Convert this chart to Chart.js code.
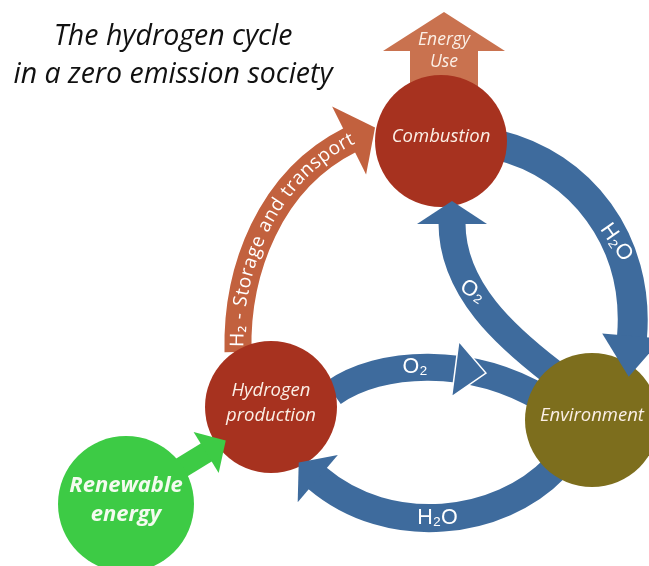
<!DOCTYPE html>
<html>
<head>
<meta charset="utf-8">
<script src="https://cdn.jsdelivr.net/npm/chart.js@4.4.0/dist/chart.umd.min.js"></script>
<style>
  html, body { margin: 0; padding: 0; background: #fff; }
  #wrap { width: 649px; height: 566px; position: relative; }
</style>
</head>
<body>
<div id="wrap"><canvas id="cycle"></canvas></div>
<script>
// title
const titleLines = ['The hydrogen cycle', 'in a zero emission society'];

// nodes of the cycle (centre in page units, radius)
const nodeLines = [['Combustion'], ['Hydrogen', 'production'], ['Environment'], ['Renewable', 'energy']];
const nodeX = [441, 271, 592, 126];
const nodeY = [141, 407, 420, 504];
const nodeR = [66, 66, 67, 68];

// flows between the nodes: label and centre line (start, ctrl, ctrl, end of shaft)
const flowLabels = ['H₂ - Storage and transport', 'H₂O', 'O₂', 'O₂', 'H₂O', '', 'Energy\nUse'];
const flowPaths = [
    [[238, 352], [236, 270], [270, 180], [350, 140]],
    [[498, 145], [580, 165], [640, 240], [632, 337]],
    [[552, 372], [508, 338], [452, 290], [452, 223]],
    [[333, 393], [380, 360], [470, 355], [545, 400]],
    [[555, 468], [500, 525], [390, 540], [317, 478]],
    [[176, 471], [207, 452]],
    [[444, 100], [444, 50]]
];

// styles (kept apart from the data)
const nodeColors = ['#a7321f', '#a7321f', '#7d6e1d', '#3dcb45'];
const flowColors = ['#c2613e', '#3e6b9d', '#3e6b9d', '#3e6b9d', '#3e6b9d', '#3dcb45', '#c9724f'];
const flowWidth = [27, 30, 27, 27, 28, 21, 68];
const headAt = [1, 1, 1, 0.62, 1, 1, 1];
const headLen = [28, 40, 22, 30, 24, 22, 38];
const headWidth = [76, 60, 70, 56, 62, 48, 122];
const labelAt = [0, 0.64, 0.62, 0.44, 0.52, 0, 0];
const labelAngle = [0, 55, 32, 0, 0, 0, 0];

function px(chart, p) {
    return [chart.scales.x.getPixelForValue(p[0]), chart.scales.y.getPixelForValue(p[1])];
}

function pointAt(p, t) {
    if (p.length === 2) {
        return [p[0][0] + (p[1][0] - p[0][0]) * t, p[0][1] + (p[1][1] - p[0][1]) * t];
    }
    const u = 1 - t;
    const a = u * u * u, b = 3 * u * u * t, c = 3 * u * t * t, d = t * t * t;
    return [a * p[0][0] + b * p[1][0] + c * p[2][0] + d * p[3][0],
            a * p[0][1] + b * p[1][1] + c * p[2][1] + d * p[3][1]];
}

function tangentAt(p, t) {
    let dx, dy;
    if (p.length === 2) {
        dx = p[1][0] - p[0][0]; dy = p[1][1] - p[0][1];
    } else {
        const u = 1 - t;
        dx = 3 * u * u * (p[1][0] - p[0][0]) + 6 * u * t * (p[2][0] - p[1][0]) + 3 * t * t * (p[3][0] - p[2][0]);
        dy = 3 * u * u * (p[1][1] - p[0][1]) + 6 * u * t * (p[2][1] - p[1][1]) + 3 * t * t * (p[3][1] - p[2][1]);
    }
    const l = Math.hypot(dx, dy);
    return [dx / l, dy / l];
}

function drawShaft(ctx, p, i) {
    ctx.save();
    ctx.strokeStyle = flowColors[i];
    ctx.lineWidth = flowWidth[i];
    ctx.lineCap = 'butt';
    ctx.beginPath();
    ctx.moveTo(p[0][0], p[0][1]);
    if (p.length === 2) ctx.lineTo(p[1][0], p[1][1]);
    else ctx.bezierCurveTo(p[1][0], p[1][1], p[2][0], p[2][1], p[3][0], p[3][1]);
    ctx.stroke();
    ctx.restore();
}

function drawHead(ctx, p, i) {
    const b = pointAt(p, headAt[i]);
    const d = tangentAt(p, headAt[i]);
    const n = [-d[1], d[0]];
    const w = headWidth[i] / 2;
    const bx = b[0] - d[0], by = b[1] - d[1];
    ctx.save();
    ctx.fillStyle = flowColors[i];
    ctx.beginPath();
    ctx.moveTo(bx + n[0] * w, by + n[1] * w);
    ctx.lineTo(b[0] + d[0] * headLen[i], b[1] + d[1] * headLen[i]);
    ctx.lineTo(bx - n[0] * w, by - n[1] * w);
    ctx.closePath();
    ctx.fill();
    if (headAt[i] < 1) {
        ctx.strokeStyle = '#ffffff';
        ctx.lineWidth = 1.5;
        ctx.stroke();
    }
    ctx.restore();
}

// writes text along a flow's centre line, starting s0 px from its start
function textAlong(ctx, p, text, s0, spacing) {
    const steps = 400, tMax = 1.3;
    const table = [0];
    let prev = pointAt(p, 0);
    for (let k = 1; k <= steps; k++) {
        const q = pointAt(p, tMax * k / steps);
        table.push(table[k - 1] + Math.hypot(q[0] - prev[0], q[1] - prev[1]));
        prev = q;
    }
    const tFor = s => {
        let k = 0;
        while (k < steps && table[k + 1] < s) k++;
        const f = (s - table[k]) / ((table[k + 1] - table[k]) || 1);
        return tMax * (k + f) / steps;
    };
    let s = s0;
    for (const ch of text) {
        const w = ctx.measureText(ch).width;
        const t = tFor(s + w / 2);
        const q = pointAt(p, t);
        const d = tangentAt(p, t);
        ctx.save();
        ctx.translate(q[0], q[1]);
        ctx.rotate(Math.atan2(d[1], d[0]));
        ctx.fillText(ch, 0, 0);
        ctx.restore();
        s += w + spacing;
    }
}

const diagramPlugin = {
    id: 'diagram',
    beforeDatasetsDraw(chart) {
        const ctx = chart.ctx;
        flowPaths.forEach((path, i) => drawShaft(ctx, path.map(q => px(chart, q)), i));
    },
    afterDatasetsDraw(chart) {
        const ctx = chart.ctx;
        flowPaths.forEach((path, i) => drawHead(ctx, path.map(q => px(chart, q)), i));

        ctx.save();
        ctx.fillStyle = '#ffffff';
        ctx.textAlign = 'center';
        ctx.textBaseline = 'middle';

        // label running along the storage arrow
        ctx.font = '19px "Open Sans"';
        textAlong(ctx, flowPaths[0].map(q => px(chart, q)), flowLabels[0], 5, 0.8);

        // short labels on the blue arrows
        ctx.font = '21.5px "Liberation Sans"';
        for (let i = 1; i <= 4; i++) {
            const q = pointAt(flowPaths[i].map(v => px(chart, v)), labelAt[i]);
            ctx.save();
            ctx.translate(q[0], q[1]);
            ctx.rotate(labelAngle[i] * Math.PI / 180);
            ctx.fillText(flowLabels[i], 0, 0);
            ctx.restore();
        }

        // energy use
        ctx.fillStyle = '#fbefe6';
        ctx.font = 'italic 17.5px "Open Sans"';
        const top = px(chart, flowPaths[6][1]);
        flowLabels[6].split('\n').forEach((line, k) => {
            ctx.fillText(line, top[0], top[1] - 10 + k * 22);
        });

        // node names
        nodeLines.forEach((lines, i) => {
            const c = px(chart, [nodeX[i], nodeY[i]]);
            const green = i === 3;
            ctx.fillStyle = green ? '#f4fbef' : '#fbefe6';
            ctx.font = green ? 'italic bold 22px "Open Sans"' : 'italic 18.5px "Open Sans"';
            const gap = green ? 29 : 25;
            lines.forEach((line, k) => {
                ctx.fillText(line, c[0], c[1] - 4 + (k - (lines.length - 1) / 2) * gap);
            });
        });

        // title
        ctx.fillStyle = '#111111';
        ctx.textBaseline = 'alphabetic';
        ctx.font = 'italic 28.5px "Open Sans"';
        titleLines.forEach((line, k) => ctx.fillText(line, 173, 45 + k * 38));
        ctx.restore();
    }
};

new Chart(document.getElementById('cycle'), {
    type: 'bubble',
    data: {
        datasets: [{
            label: 'Hydrogen cycle',
            data: nodeX.map((x, i) => ({ x: x, y: nodeY[i], r: nodeR[i] })),
            backgroundColor: nodeColors,
            borderWidth: 0,
            clip: false
        }]
    },
    options: {
        responsive: true,
        maintainAspectRatio: false,
        animation: false,
        events: [],
        layout: { padding: 0, autoPadding: false },
        plugins: {
            legend: { display: false },
            tooltip: { enabled: false }
        },
        scales: {
            x: { type: 'linear', min: 0, max: 649, display: false },
            y: { type: 'linear', min: 0, max: 566, reverse: true, display: false }
        }
    },
    plugins: [diagramPlugin]
});
</script>
</body>
</html>
